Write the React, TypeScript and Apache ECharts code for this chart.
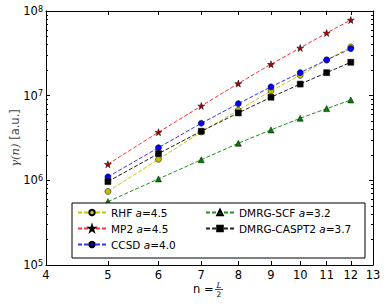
import React, { useEffect, useRef } from "react";
import * as echarts from "echarts";

const nValues = [5, 6, 7, 8, 9, 10, 11, 12];
const rhf = [7.4e5, 1.77e6, 3.73e6, 6.72e6, 1.14e7, 1.74e7, 2.64e7, 3.76e7];
const mp2 = [1.55e6, 3.7e6, 7.56e6, 1.39e7, 2.35e7, 3.66e7, 5.5e7, 7.83e7];
const ccsd = [1.1e6, 2.43e6, 4.72e6, 8.05e6, 1.27e7, 1.87e7, 2.64e7, 3.59e7];
const dmrgScf = [5.6e5, 1.04e6, 1.75e6, 2.74e6, 3.94e6, 5.41e6, 7.03e6, 8.9e6];
const dmrgCaspt2 = [9.66e5, 2.07e6, 3.8e6, 6.25e6, 9.58e6, 1.37e7, 1.87e7, 2.48e7];

const seriesNames = ["RHF", "MP2", "CCSD", "DMRG-SCF", "DMRG-CASPT2"];
const exponents = ["4.5", "4.5", "4.0", "3.2", "3.7"];
const xTicks = [4, 5, 6, 7, 8, 9, 10, 11, 12, 13];
const yTicks = [1e5, 1e6, 1e7, 1e8];
const yMinorTicks = [
  2e5, 3e5, 4e5, 5e5, 6e5, 7e5, 8e5, 9e5,
  2e6, 3e6, 4e6, 5e6, 6e6, 7e6, 8e6, 9e6,
  2e7, 3e7, 4e7, 5e7, 6e7, 7e7, 8e7, 9e7,
];

const STAR =
  "path://M50,0 L61,35 L98,35 L68,57 L79,91 L50,70 L21,91 L32,57 L2,35 L39,35 Z";

const FONT = "DejaVu Sans";

const styles = [
  { line: "#c8c800", fill: "#bfbf00", symbol: "circle", size: 6 },
  { line: "#ff3030", fill: "#b00000", symbol: STAR, size: 7 },
  { line: "#3030ff", fill: "#0000ff", symbol: "circle", size: 6 },
  { line: "#209020", fill: "#008000", symbol: "triangle", size: 6 },
  { line: "#202020", fill: "#000000", symbol: "rect", size: 6 },
];

const allData = [rhf, mp2, ccsd, dmrgScf, dmrgCaspt2];

const TARGET = { left: 46, right: 373, top: 11, bottom: 265 };

export default function App() {
  const ref = useRef<HTMLDivElement>(null);
  useEffect(() => {
    document.body.style.margin = "0";
    if (!ref.current) return;
    const chart = echarts.init(ref.current, undefined, { renderer: "svg" });

    const expOf: Record<string, string> = {};
    seriesNames.forEach((n, i) => (expOf[n] = exponents[i]));

    const legendCommon = {
      orient: "vertical" as const,
      padding: 0,
      itemWidth: 28,
      itemHeight: 7,
      itemGap: 5,
      z: 6,
      formatter: (name: string) => `${name} {i|a}=${expOf[name]}`,
      textStyle: {
        color: "#000",
        fontSize: 10.5,
        fontFamily: FONT,
        rich: {
          i: { fontStyle: "italic", fontSize: 10.5, fontFamily: FONT, color: "#000" },
        },
      },
    };

    const makeGrid = (l: number, r: number, t: number, b: number) => ({
      left: l,
      right: r,
      top: t,
      bottom: b,
      outerBoundsMode: "none",
    });

    const xCommon = {
      type: "log" as const,
      logBase: 10,
      min: 4,
      max: 13,
      splitLine: { show: false },
      minorTick: { show: false },
      axisLine: { show: true, onZero: false, lineStyle: { color: "#000", width: 1 } },
      axisTick: { show: true, inside: true, length: 4, customValues: xTicks, lineStyle: { color: "#000" } },
    };

    const yCommon = {
      type: "log" as const,
      logBase: 10,
      min: 1e5,
      max: 1e8,
      splitLine: { show: false },
      minorTick: { show: false },
    };

    let gl = 46, gr = 13, gt = 11, gb = 39;
    const grids = () => [makeGrid(gl, gr, gt, gb), makeGrid(gl, gr, gt, gb), makeGrid(gl, gr, gt, gb), makeGrid(gl, gr, gt, gb)];

    chart.setOption({
      animation: false,
      backgroundColor: "#fff",
      grid: grids(),
      xAxis: [
        {
          ...xCommon,
          gridIndex: 0,
          position: "bottom",
          axisLabel: {
            show: true,
            customValues: xTicks,
            margin: 4,
            color: "#000",
            fontSize: 11.5,
            fontFamily: FONT,
            formatter: (v: number) => String(Math.round(v)),
          },
        },
        {
          ...xCommon,
          gridIndex: 1,
          position: "top",
          axisLabel: { show: false },
        },
        { type: "log", min: 4, max: 13, gridIndex: 2, show: false },
        { type: "log", min: 4, max: 13, gridIndex: 3, show: false },
      ],
      yAxis: [
        {
          ...yCommon,
          gridIndex: 0,
          position: "left",
          axisLine: { show: true, onZero: false, lineStyle: { color: "#000", width: 1 } },
          axisTick: { show: true, inside: true, length: 4, customValues: yTicks, lineStyle: { color: "#000" } },
          axisLabel: {
            show: true,
            customValues: yTicks,
            margin: 3,
            color: "#000",
            fontSize: 11.5,
            fontFamily: FONT,
            formatter: (v: number) => `10{s|${Math.round(Math.log10(v))}}`,
            rich: {
              s: { fontSize: 8, fontFamily: FONT, color: "#000", verticalAlign: "top", padding: [0, 0, 4, 0] },
            },
          },
        },
        {
          ...yCommon,
          gridIndex: 1,
          position: "right",
          axisLine: { show: true, onZero: false, lineStyle: { color: "#000", width: 1 } },
          axisTick: { show: true, inside: true, length: 4, customValues: yTicks, lineStyle: { color: "#000" } },
          axisLabel: { show: false },
        },
        {
          ...yCommon,
          gridIndex: 2,
          position: "left",
          axisLine: { show: false },
          axisTick: { show: true, inside: true, length: 2, customValues: yMinorTicks, lineStyle: { color: "#000" } },
          axisLabel: { show: false },
        },
        {
          ...yCommon,
          gridIndex: 3,
          position: "right",
          axisLine: { show: false },
          axisTick: { show: true, inside: true, length: 2, customValues: yMinorTicks, lineStyle: { color: "#000" } },
          axisLabel: { show: false },
        },
      ],
      legend: [
        { ...legendCommon, data: seriesNames.slice(0, 3), left: 77, top: 207 },
        { ...legendCommon, data: seriesNames.slice(3), left: 205, top: 207 },
      ],
      graphic: [
        {
          type: "rect",
          z: 5,
          shape: { x: 72, y: 203, width: 293, height: 55 },
          style: { fill: "#fff", stroke: "#000", lineWidth: 1 },
        },
        {
          type: "text",
          x: 15,
          y: 138,
          rotation: Math.PI / 2,
          style: {
            text: "{i|γ(n)} [a.u.]",
            fontSize: 11.5,
            fontFamily: FONT,
            fill: "#444",
            align: "center",
            verticalAlign: "middle",
            rich: { i: { fontStyle: "italic", fontSize: 11.5, fontFamily: "DejaVu Serif", fill: "#444" } },
          },
        },
        {
          type: "text",
          x: 193,
          y: 289,
          style: { text: "n =", fontSize: 11.5, fontFamily: FONT, fill: "#000", verticalAlign: "middle", align: "left" },
        },
        {
          type: "text",
          x: 219,
          y: 285,
          style: { text: "L", fontSize: 7.5, fontStyle: "italic", fontFamily: "DejaVu Serif", fill: "#000", verticalAlign: "middle", align: "center" },
        },
        {
          type: "line",
          shape: { x1: 215, y1: 289.5, x2: 223, y2: 289.5 },
          style: { stroke: "#000", lineWidth: 0.7 },
        },
        {
          type: "text",
          x: 219,
          y: 294.5,
          style: { text: "2", fontSize: 7.5, fontFamily: FONT, fill: "#000", verticalAlign: "middle", align: "center" },
        },
      ],
      series: seriesNames.map((name, i) => ({
        name,
        type: "line",
        xAxisIndex: 0,
        yAxisIndex: 0,
        data: nValues.map((n, j) => [n, allData[i][j]]),
        symbol: styles[i].symbol,
        symbolSize: styles[i].size,
        showSymbol: true,
        lineStyle: { color: styles[i].line, width: 1, type: [4, 2] },
        itemStyle: { color: styles[i].fill, borderColor: "#000", borderWidth: 0.5 },
        z: 2,
      })),
    });

    // correct the plot rectangle if the library shrank it
    const px4 = chart.convertToPixel({ xAxisIndex: 0 }, 4) as number;
    const px13 = chart.convertToPixel({ xAxisIndex: 0 }, 13) as number;
    const py8 = chart.convertToPixel({ yAxisIndex: 0 }, 1e8) as number;
    const py5 = chart.convertToPixel({ yAxisIndex: 0 }, 1e5) as number;
    if (
      Math.abs(px4 - TARGET.left) > 0.5 ||
      Math.abs(px13 - TARGET.right) > 0.5 ||
      Math.abs(py8 - TARGET.top) > 0.5 ||
      Math.abs(py5 - TARGET.bottom) > 0.5
    ) {
      gl -= px4 - TARGET.left;
      gr += px13 - TARGET.right;
      gt -= py8 - TARGET.top;
      gb += py5 - TARGET.bottom;
      chart.setOption({ grid: grids() });
    }

    return () => chart.dispose();
  }, []);
  return <div ref={ref} style={{ width: 386, height: 304 }} />;
}
